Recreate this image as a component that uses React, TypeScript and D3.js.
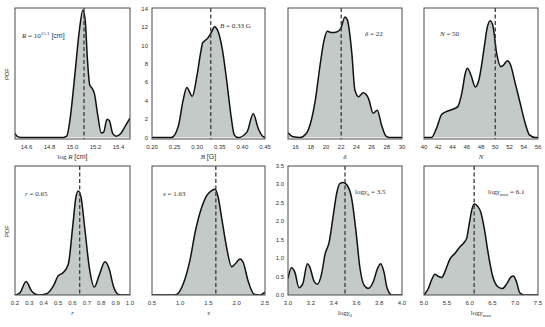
import * as d3 from "d3";
import React from "react";

// curves: [x, density]
const logRCurve: [number, number][] = [
  [14.5, 0.032], [14.52, 0.008], [14.55, 0], [14.92, 0], [14.95, 0.01], [14.98, 0.15],
  [15.02, 0.48], [15.06, 0.83], [15.09, 0.985], [15.11, 0.91], [15.13, 0.6], [15.15, 0.405],
  [15.17, 0.38], [15.19, 0.34], [15.22, 0.17], [15.25, 0.035], [15.27, 0.04], [15.3, 0.14],
  [15.32, 0.13], [15.35, 0.03], [15.38, 0.01], [15.42, 0.03], [15.46, 0.09], [15.5, 0.15],
];
const bCurve: [number, number][] = [
  [0.2, 0], [0.243, 0], [0.258, 1.2], [0.269, 4.1], [0.277, 5.45], [0.289, 4.5], [0.299, 6.6],
  [0.308, 9.35], [0.312, 10.3], [0.323, 10.8], [0.332, 11.5], [0.338, 12.07], [0.345, 11.7],
  [0.356, 9.5], [0.365, 6.3], [0.375, 2.3], [0.382, 0.3], [0.39, 0], [0.41, 0.6], [0.424, 2.6],
  [0.435, 1.0], [0.446, 0.1], [0.45, 0],
];
const deltaCurve: [number, number][] = [
  [15.0, 0.037], [15.7, 0.005], [16.6, 0], [17.4, 0.03], [17.96, 0.11], [18.6, 0.29], [19.2, 0.55],
  [19.74, 0.75], [20.18, 0.82], [20.75, 0.81], [21.4, 0.815], [21.93, 0.84], [22.5, 0.93],
  [22.8, 0.91], [23.4, 0.65], [23.8, 0.367], [24.3, 0.315], [24.9, 0.346], [25.6, 0.3],
  [26.2, 0.187], [26.75, 0.21], [27.3, 0.097], [27.9, 0.01], [28.3, 0], [30, 0],
];
const nCurve: [number, number][] = [
  [40, 0], [41.06, 0], [41.75, 0.07], [42.44, 0.174], [43.13, 0.2], [44.05, 0.218], [44.74, 0.238],
  [45.3, 0.34], [45.8, 0.496], [46.1, 0.534], [46.6, 0.48], [47.2, 0.39], [47.7, 0.444],
  [48.4, 0.676], [48.85, 0.843], [49.3, 0.902], [49.7, 0.855], [50.2, 0.65], [50.8, 0.547],
  [51.17, 0.56], [51.7, 0.593], [52.1, 0.567], [52.8, 0.42], [53.5, 0.264], [54.2, 0.11],
  [54.8, 0.02], [55.6, 0], [56, 0],
];
const rCurve: [number, number][] = [
  [0.2, 0], [0.235, 0.018], [0.277, 0.104], [0.316, 0.03], [0.362, 0], [0.42, 0.01], [0.467, 0.07],
  [0.5, 0.148], [0.536, 0.174], [0.571, 0.24], [0.601, 0.526], [0.624, 0.76], [0.64, 0.807],
  [0.659, 0.76], [0.687, 0.5], [0.717, 0.213], [0.752, 0.062], [0.784, 0.148], [0.826, 0.258],
  [0.856, 0.2], [0.884, 0.07], [0.919, 0.005], [0.95, 0], [1.0, 0],
];
const sCurve: [number, number][] = [
  [0.5, 0], [0.85, 0], [0.937, 0.005], [1.05, 0.083], [1.17, 0.266], [1.27, 0.5], [1.38, 0.68],
  [1.47, 0.773], [1.556, 0.81], [1.615, 0.82], [1.67, 0.76], [1.74, 0.578], [1.82, 0.37],
  [1.91, 0.219], [1.97, 0.24], [2.057, 0.279], [2.115, 0.252], [2.2, 0.11], [2.31, 0.005],
  [2.41, 0], [2.5, 0.023],
];
const gamma0Curve: [number, number][] = [
  [3.0, 0.445], [3.03, 0.74], [3.06, 0.62], [3.096, 0.2], [3.13, 0.31], [3.17, 0.85], [3.19, 0.77],
  [3.23, 0.36], [3.257, 0.29], [3.295, 0.58], [3.325, 1.11], [3.36, 1.42], [3.398, 2.18],
  [3.427, 2.76], [3.456, 3.03], [3.485, 3.05], [3.52, 2.97], [3.558, 2.63], [3.596, 1.74],
  [3.63, 0.76], [3.667, 0.27], [3.705, 0.18], [3.748, 0.36], [3.784, 0.71], [3.813, 0.85],
  [3.842, 0.62], [3.87, 0.18], [3.91, 0], [4.0, 0],
];
const gammaMaxCurve: [number, number][] = [
  [5.0, 0], [5.095, 0.05], [5.17, 0.12], [5.24, 0.16], [5.31, 0.145], [5.39, 0.135], [5.475, 0.196],
  [5.57, 0.28], [5.68, 0.323], [5.79, 0.374], [5.88, 0.407], [5.94, 0.445], [5.99, 0.547],
  [6.05, 0.662], [6.1, 0.705], [6.18, 0.687], [6.25, 0.636], [6.32, 0.52], [6.41, 0.318],
  [6.5, 0.153], [6.62, 0.064], [6.72, 0.05], [6.81, 0.084], [6.91, 0.14], [6.96, 0.148],
  [7.03, 0.1], [7.1, 0.018], [7.2, 0], [7.5, 0],
];

const medians = [15.1, 0.33, 22, 50, 0.65, 1.63, 3.5, 6.1];
const xDomains: [number, number][] = [
  [14.5, 15.5], [0.2, 0.45], [15, 30], [40, 56], [0.2, 1.0], [0.5, 2.5], [3.0, 4.0], [5.0, 7.5],
];
const xTicks: number[][] = [
  [14.6, 14.8, 15.0, 15.2, 15.4],
  [0.2, 0.25, 0.3, 0.35, 0.4, 0.45],
  [16, 18, 20, 22, 24, 26, 28, 30],
  [40, 42, 44, 46, 48, 50, 52, 54, 56],
  [0.2, 0.3, 0.4, 0.5, 0.6, 0.7, 0.8, 0.9, 1.0],
  [0.5, 1.0, 1.5, 2.0, 2.5],
  [3.0, 3.2, 3.4, 3.6, 3.8, 4.0],
  [5.0, 5.5, 6.0, 6.5, 7.0, 7.5],
];
const xTickFormats = [".1f", ".2f", "d", "d", ".1f", ".1f", ".1f", ".1f"];
const bYTicks = [0, 2, 4, 6, 8, 10, 12, 14];
const gamma0YTicks = [0.0, 0.5, 1.0, 1.5, 2.0, 2.5, 3.0, 3.5];

const cols: [number, number][] = [[15, 130], [152, 265], [288, 402], [424, 538]];
const rows: [number, number][] = [[8, 139], [166, 295]];

const curves = [logRCurve, bCurve, deltaCurve, nCurve, rCurve, sCurve, gamma0Curve, gammaMaxCurve];
const yDomains: [number, number][] = [
  [-0.012, 1], [-0.15, 14.1], [-0.012, 1], [-0.012, 1],
  [0, 1], [0, 1], [0, 3.5], [0, 1],
];

const tickFont = "'Liberation Sans Narrow', 'Liberation Sans', 'DejaVu Sans Condensed', sans-serif";
const mathFont = "'Liberation Serif', 'DejaVu Serif', serif";
const fillCol = "#c4cac7";
const frameCol = "#4a4a4a";
const tickCol = "#333";

const Sub = ({ t }: { t: string }) => (
  <tspan fontSize={5} dy={1.5}>{t}</tspan>
);

// x-axis labels, one per panel
const XLabel = ({ i }: { i: number }) => {
  const s = { fontFamily: mathFont, fontSize: 7, fill: tickCol };
  if (i === 0)
    return (<tspan style={s}>log<tspan fontStyle="italic"> R </tspan><tspan fontFamily={tickFont}>[cm]</tspan></tspan>);
  if (i === 1)
    return (<tspan style={s}><tspan fontStyle="italic">B </tspan><tspan fontFamily={tickFont}>[G]</tspan></tspan>);
  if (i === 2) return <tspan style={s} fontStyle="italic">δ</tspan>;
  if (i === 3) return <tspan style={s} fontStyle="italic">N</tspan>;
  if (i === 4) return <tspan style={s} fontStyle="italic">r</tspan>;
  if (i === 5) return <tspan style={s} fontStyle="italic">s</tspan>;
  if (i === 6) return (<tspan style={s}>log<tspan fontStyle="italic">γ</tspan><Sub t="0" /></tspan>);
  return (<tspan style={s}>log<tspan fontStyle="italic">γ</tspan><Sub t="max" /></tspan>);
};

const Annot = ({ i }: { i: number }) => {
  const st = { fontFamily: mathFont, fontSize: 7, fill: "#333" };
  const pos: [number, number][] = [
    [22, 38], [220, 28], [365, 36], [440, 36], [25, 196], [163, 196], [355, 194], [488, 194],
  ];
  const [x, y] = pos[i];
  let body: React.ReactNode;
  if (i === 0)
    body = (<><tspan fontStyle="italic">R</tspan> = 10<tspan fontSize={5} dy={-3}>15.1</tspan><tspan dy={3} fontFamily={tickFont}> [cm]</tspan></>);
  else if (i === 1) body = (<><tspan fontStyle="italic">B</tspan> = 0.33 G</>);
  else if (i === 2) body = (<><tspan fontStyle="italic">δ</tspan> = 22</>);
  else if (i === 3) body = (<><tspan fontStyle="italic">N</tspan> = 50</>);
  else if (i === 4) body = (<><tspan fontStyle="italic">r</tspan> = 0.65</>);
  else if (i === 5) body = (<><tspan fontStyle="italic">s</tspan> = 1.63</>);
  else if (i === 6) body = (<>log<tspan fontStyle="italic">γ</tspan><Sub t="0" /><tspan dy={-1.5}> = 3.5</tspan></>);
  else body = (<>log<tspan fontStyle="italic">γ</tspan><Sub t="max" /><tspan dy={-1.5}> = 6.1</tspan></>);
  return <text x={x} y={y} style={st}>{body}</text>;
};

const Panel = ({ i }: { i: number }) => {
  const [x0, x1] = cols[i % 4];
  const [y0, y1] = rows[Math.floor(i / 4)];
  const x = d3.scaleLinear().domain(xDomains[i]).range([x0, x1]);
  const y = d3.scaleLinear().domain(yDomains[i]).range([y1, y0]);
  const data = curves[i];
  const area = d3.area<[number, number]>().x((d) => x(d[0])).y0(y(0)).y1((d) => y(d[1])).curve(d3.curveMonotoneX);
  const line = d3.line<[number, number]>().x((d) => x(d[0])).y((d) => y(d[1])).curve(d3.curveMonotoneX);
  const fmt = d3.format(xTickFormats[i]);
  const clipId = `clip${i}`;
  const yTicks = i === 1 ? bYTicks : i === 6 ? gamma0YTicks : [];
  const yFmt = i === 6 ? d3.format(".1f") : d3.format("d");
  return (
    <g>
      <clipPath id={clipId}>
        <rect x={x0} y={y0} width={x1 - x0} height={y1 - y0} />
      </clipPath>
      <g clipPath={`url(#${clipId})`}>
        <path d={area(data) ?? ""} fill={fillCol} />
        <path d={line(data) ?? ""} fill="none" stroke="#111" strokeWidth={1.5} />
        <line x1={x(medians[i])} x2={x(medians[i])} y1={y0} y2={y1} stroke="#3a3a3a" strokeWidth={1.3} strokeDasharray="4,2.5" />
      </g>
      <rect x={x0} y={y0} width={x1 - x0} height={y1 - y0} fill="none" stroke={frameCol} strokeWidth={1} />
      {xTicks[i].map((t) => (
        <text key={t} x={x(t)} y={y1 + 10} textAnchor="middle" fontFamily={tickFont} fontSize={6} fill={tickCol}>
          {fmt(t)}
        </text>
      ))}
      {yTicks.map((t) => (
        <text key={t} x={x0 - 4} y={y(t) + 2} textAnchor="end" fontFamily={tickFont} fontSize={6} fill={tickCol}>
          {yFmt(t)}
        </text>
      ))}
      <text x={(x0 + x1) / 2} y={y1 + 20} textAnchor="middle">
        <XLabel i={i} />
      </text>
      <Annot i={i} />
    </g>
  );
};

export default function App() {
  return (
    <svg width={545} height={327} style={{ position: "absolute", left: 0, top: 0, background: "#fff" }}>
      {[0, 1, 2, 3, 4, 5, 6, 7].map((i) => (
        <Panel key={i} i={i} />
      ))}
      {[74, 231].map((cy) => (
        <text key={cy} transform={`translate(9,${cy}) rotate(-90)`} textAnchor="middle" fontFamily={tickFont} fontSize={6} fill={tickCol}>
          PDF
        </text>
      ))}
    </svg>
  );
}
